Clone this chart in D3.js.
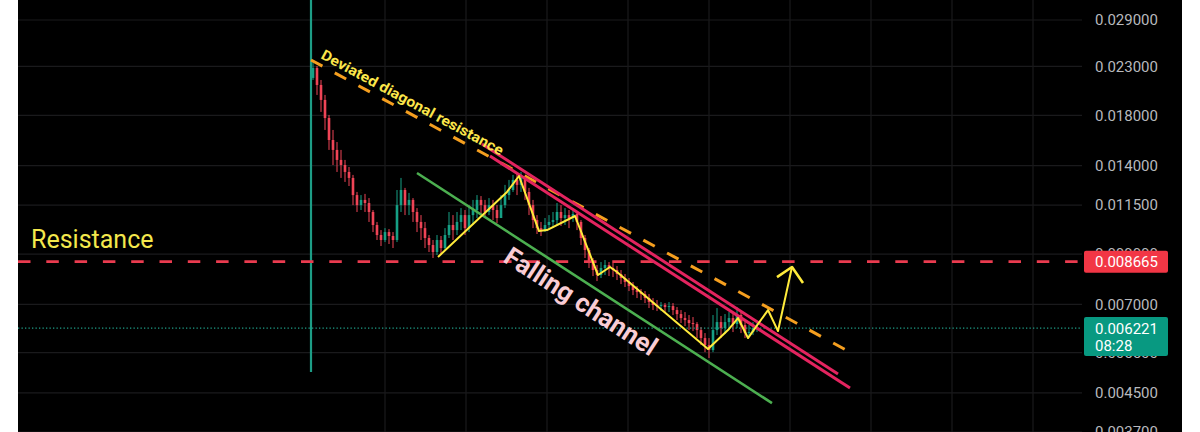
<!DOCTYPE html>
<html><head><meta charset="utf-8">
<script src="https://cdn.jsdelivr.net/npm/d3@7/dist/d3.min.js"></script>
<style>
html,body{margin:0;padding:0;background:#fff;}
svg{display:block;font-family:Roboto,"Noto Sans",sans-serif;}
</style></head><body>
<svg id="chart" width="1200" height="432"></svg>
<script>
// ---- candle data (bar index 0..111) ----
const opens = [0.02171,0.02282,0.02096,0.01945,0.01777,0.01592,0.01515,0.01441,0.01405,0.01357,
0.01317,0.01209,0.01150,0.01180,0.01162,0.01111,0.01041,0.009902,0.009658,0.01005,
0.009853,0.009658,0.01150,0.01240,0.01150,0.01180,0.01111,0.01057,0.01025,0.009755,
0.009419,0.009095,0.009658,0.009279,0.009902,0.01041,0.01015,0.01057,0.01094,0.01025,
0.01094,0.01122,0.01180,0.01150,0.01111,0.01150,0.01122,0.01078,0.01150,0.01209,
0.01240,0.01304,0.01272,0.01317,0.01228,0.01150,0.01067,0.01025,0.01015,0.01041,
0.01057,0.01067,0.01111,0.01078,0.01094,0.01078,0.01100,0.01057,0.009755,0.009187,
0.008652,0.008312,0.008107,0.008396,0.008523,0.008396,0.008312,0.008147,0.007986,0.007828,
0.007673,0.007521,0.007446,0.007372,0.007226,0.007083,0.006978,0.006943,0.006978,0.006909,
0.006943,0.006806,0.006671,0.006539,0.006474,0.006378,0.006346,0.006158,0.005917,0.005713,
0.005572,0.006158,0.006409,0.006220,0.006409,0.006539,0.006346,0.006638,0.006314,0.006066,
0.006097,0.006220];
const highs = [0.02375,0.02305,0.02149,0.01994,0.01804,0.01674,0.01576,0.01515,0.01441,0.01391,
0.01337,0.01228,0.01209,0.01216,0.01191,0.01122,0.01057,0.01015,0.01025,0.01020,
0.01005,0.01240,0.01317,0.01253,0.01222,0.01191,0.01133,0.01094,0.01057,0.009902,
0.009658,0.009902,0.009853,0.01025,0.01111,0.01094,0.01111,0.01133,0.01122,0.01150,
0.01180,0.01209,0.01203,0.01180,0.01191,0.01180,0.01150,0.01209,0.01272,0.01304,
0.01337,0.01343,0.01357,0.01317,0.01253,0.01180,0.01094,0.01057,0.01078,0.01094,
0.01111,0.01162,0.01150,0.01133,0.01122,0.01133,0.01111,0.01067,0.009902,0.009279,
0.008827,0.008523,0.008652,0.008739,0.008652,0.008609,0.008480,0.008312,0.008147,0.007986,
0.007828,0.007673,0.007559,0.007483,0.007372,0.007226,0.007155,0.007083,0.007048,0.007083,
0.007048,0.006909,0.006806,0.006738,0.006638,0.006572,0.006409,0.006251,0.006066,0.005917,
0.006638,0.006874,0.006605,0.006671,0.006738,0.006671,0.006909,0.006738,0.006409,0.006314,
0.006409,0.006409];
const lows = [0.02149,0.01994,0.01832,0.01674,0.01515,0.01405,0.01357,0.01317,0.01291,0.01265,
0.01150,0.01111,0.01122,0.01111,0.01057,0.01005,0.009658,0.009372,0.009561,0.009467,
0.009279,0.009561,0.01111,0.01094,0.01094,0.01057,0.01005,0.009658,0.009279,0.009095,
0.008827,0.008960,0.008960,0.009187,0.009755,0.009658,0.009902,0.01015,0.009902,0.01005,
0.01041,0.01078,0.01094,0.01078,0.01094,0.01067,0.01051,0.01094,0.01133,0.01180,
0.01228,0.01209,0.01228,0.01180,0.01094,0.01025,0.009952,0.009853,0.01005,0.01015,
0.01025,0.01041,0.01036,0.01041,0.01025,0.01057,0.01015,0.009419,0.008827,0.008396,
0.008066,0.007867,0.007986,0.008107,0.008066,0.008026,0.007907,0.007750,0.007635,0.007483,
0.007335,0.007226,0.007155,0.007048,0.006874,0.006806,0.006772,0.006772,0.006705,0.006738,
0.006638,0.006474,0.006378,0.006282,0.006158,0.006127,0.005917,0.005713,0.005516,0.005354,
0.005516,0.006006,0.005917,0.006036,0.006158,0.006097,0.006220,0.006066,0.005917,0.005946,
0.006006,0.006097];
const closes = [0.02282,0.02096,0.01945,0.01777,0.01592,0.01515,0.01441,0.01405,0.01357,0.01317,
0.01209,0.01150,0.01180,0.01162,0.01111,0.01041,0.009902,0.009658,0.01005,0.009853,
0.009658,0.01150,0.01240,0.01150,0.01180,0.01111,0.01057,0.01025,0.009755,0.009419,
0.009095,0.009658,0.009279,0.009902,0.01041,0.01015,0.01057,0.01094,0.01025,0.01094,
0.01122,0.01180,0.01150,0.01111,0.01150,0.01122,0.01078,0.01150,0.01209,0.01240,
0.01304,0.01272,0.01317,0.01228,0.01150,0.01067,0.01025,0.01015,0.01041,0.01057,
0.01067,0.01111,0.01078,0.01094,0.01078,0.01100,0.01057,0.009755,0.009187,0.008652,
0.008312,0.008107,0.008396,0.008523,0.008396,0.008312,0.008147,0.007986,0.007828,0.007673,
0.007521,0.007446,0.007372,0.007226,0.007083,0.006978,0.006943,0.006978,0.006909,0.006943,
0.006806,0.006671,0.006539,0.006474,0.006378,0.006346,0.006158,0.005917,0.005713,0.005572,
0.006158,0.006409,0.006220,0.006409,0.006539,0.006346,0.006638,0.006314,0.006066,0.006097,
0.006220,0.006221];

// listing candle wick (first bar)
const listingBar = [-0.5];
const listingHigh = [0.0330];
const listingLow = [0.004992];

// ---- axes ----
const priceTicks = [0.029,0.023,0.018,0.014,0.0115,0.009,0.007,0.0055,0.0045,0.0037];
const timeGridTicks = [18,38.25,58.5,78.75,99,119.25,139.5,159.75,180];

// ---- markers ----
const resistanceLevel = [0.008665];
const lastPrice = [0.006221];
const countdown = ["08:28"];

// ---- drawings (bar index, price) ----
const diagResistance = [[-0.5,0.02375],[134.25,0.005516]];
const channelUpperA = [[42.25,0.01561],[131.25,0.004942]];
const channelUpperB = [[44.25,0.01470],[134.25,0.004608]];
const channelLower = [[26,0.01350],[114.75,0.004274]];
const zigzag = [[31.25,0.008871],[48.5,0.01228],[51.5,0.01330],[56.5,0.01010],[58.5,0.01015],
 [65.5,0.01089],[71.25,0.008107],[74.25,0.008438],[76,0.008229],[98.75,0.005600],
 [103.75,0.006158],[106.25,0.006539],[108.75,0.005917],[113.75,0.006806],[116.25,0.006127],[119.75,0.008438]];
const arrowHead = [[116,0.008026],[119.75,0.008438],[122.5,0.007789]];
const labels = ["Deviated diagonal resistance","Falling channel","Resistance"];

// ---- drawing ----
const svg = d3.select("#chart");
const W=1200,H=432, L=18, R=1182, PR=1082;
const x = d3.scaleLinear().domain([-73.75,192.25]).range([L,PR]);
const y = d3.scaleLog().domain([0.0037,0.029]).range([432,20]);

svg.append("rect").attr("x",L).attr("y",0).attr("width",R-L).attr("height",H).attr("fill","#000");

const grid = svg.append("g").attr("stroke","#1a1a1c").attr("stroke-width",1.2);
grid.selectAll("line.h").data(priceTicks).join("line")
  .attr("x1",L).attr("x2",PR).attr("y1",d=>y(d)).attr("y2",d=>y(d));
grid.selectAll("line.v").data(timeGridTicks).join("line").attr("class","v")
  .attr("x1",d=>x(d)).attr("x2",d=>x(d)).attr("y1",0).attr("y2",H);

// price axis labels
const yAxis = d3.axisRight(y).tickValues(priceTicks).tickFormat(d=>d.toFixed(6)).tickSize(0).tickPadding(0);
const ax = svg.append("g").attr("transform",`translate(1095,0)`).call(yAxis);
ax.select(".domain").remove();
ax.selectAll("text").attr("fill","#b8b9bd").attr("font-size",15).attr("font-family","Roboto");

// listing wick
svg.selectAll("line.listing").data(listingBar).join("line").attr("class","listing")
  .attr("x1",d=>x(d)).attr("x2",d=>x(d))
  .attr("y1",(d,i)=>y(listingHigh[i])).attr("y2",(d,i)=>y(listingLow[i]))
  .attr("stroke","#1d9d86").attr("stroke-width",2.2);

// candles
const idx = d3.range(closes.length);
const up = "#16a085", down = "#ef4456";
const cg = svg.append("g");
cg.selectAll("line").data(idx).join("line")
  .attr("x1",i=>x(i)).attr("x2",i=>x(i))
  .attr("y1",i=>y(highs[i])).attr("y2",i=>y(lows[i]))
  .attr("stroke",i=>closes[i]>=opens[i]?up:down).attr("stroke-width",1);
cg.selectAll("rect").data(idx).join("rect")
  .attr("x",i=>x(i)-1.3).attr("width",2.6)
  .attr("y",i=>Math.min(y(opens[i]),y(closes[i])))
  .attr("height",i=>Math.max(1,Math.abs(y(opens[i])-y(closes[i]))))
  .attr("fill",i=>closes[i]>=opens[i]?up:down);

// last price dotted line
svg.selectAll("line.last").data(lastPrice).join("line").attr("class","last")
  .attr("x1",L).attr("x2",PR).attr("y1",d=>y(d)).attr("y2",d=>y(d))
  .attr("stroke","#1f9e88").attr("stroke-width",1.3).attr("stroke-dasharray","1.3 2.2");

// resistance dashed
svg.selectAll("line.res").data(resistanceLevel).join("line").attr("class","res")
  .attr("x1",L).attr("x2",PR).attr("y1",d=>y(d)).attr("y2",d=>y(d))
  .attr("stroke","#ea3b4f").attr("stroke-width",2.8).attr("stroke-dasharray","12.5 15.8");

const line = d3.line().x(d=>x(d[0])).y(d=>y(d[1]));
function path(data,color,w,dash){
  const p = svg.append("path").attr("d",line(data)).attr("fill","none")
    .attr("stroke",color).attr("stroke-width",w).attr("stroke-linecap","butt").attr("stroke-linejoin","round");
  if(dash) p.attr("stroke-dasharray",dash);
  return p;
}
path(diagResistance,"#f59f1f",3,"13 14");
path(channelLower,"#4caf50",2.6);
path(channelUpperA,"#e3245f",3);
path(channelUpperB,"#e3245f",3);
path(zigzag,"#ffeb3b",2);
path(arrowHead,"#ffeb3b",2.6);

// texts
const a1 = Math.atan2(y(diagResistance[1][1])-y(diagResistance[0][1]), x(diagResistance[1][0])-x(diagResistance[0][0]))*180/Math.PI;
svg.append("text").attr("transform",`translate(${x(1.75)},${y(0.02398)}) rotate(${a1})`)
  .attr("font-size",14.5).attr("font-weight","bold").attr("fill","#fbe64a")
  .attr("textLength",205).attr("lengthAdjust","spacingAndGlyphs").text(labels[0]);
const a2 = Math.atan2(y(channelLower[1][1])-y(channelLower[0][1]), x(channelLower[1][0])-x(channelLower[0][0]))*180/Math.PI;
svg.append("text").attr("transform",`translate(${x(47.25)},${y(0.00870)}) rotate(${a2})`)
  .attr("font-size",26).attr("font-weight","bold").attr("fill","#f9ccd4").text(labels[1]);
svg.append("text").attr("x",31).attr("y",248).attr("font-size",25).attr("fill","#f4e84c").text(labels[2]);

// price boxes
svg.selectAll("rect.resbox").data(resistanceLevel).join("rect").attr("class","resbox")
  .attr("x",1084).attr("y",d=>y(d)-11).attr("width",84).attr("height",22).attr("rx",2).attr("fill","#f23645");
svg.selectAll("text.resbox").data(resistanceLevel).join("text").attr("class","resbox")
  .attr("x",1095).attr("y",d=>y(d)+5.5).attr("font-size",15).attr("fill","#fff").text(d=>d.toFixed(6));
svg.selectAll("rect.lastbox").data(lastPrice).join("rect").attr("class","lastbox")
  .attr("x",1084).attr("y",d=>y(d)-11).attr("width",84).attr("height",39).attr("rx",2).attr("fill","#089981");
svg.selectAll("text.lastbox").data(lastPrice).join("text").attr("class","lastbox")
  .attr("x",1095).attr("y",d=>y(d)+5.5).attr("font-size",15).attr("fill","#fff").text(d=>d.toFixed(6));
svg.selectAll("text.cd").data(countdown).join("text").attr("class","cd")
  .attr("x",1095).attr("y",(d,i)=>y(lastPrice[0])+22.5).attr("font-size",15).attr("fill","#fff").text(d=>d);
</script>
</body></html>
